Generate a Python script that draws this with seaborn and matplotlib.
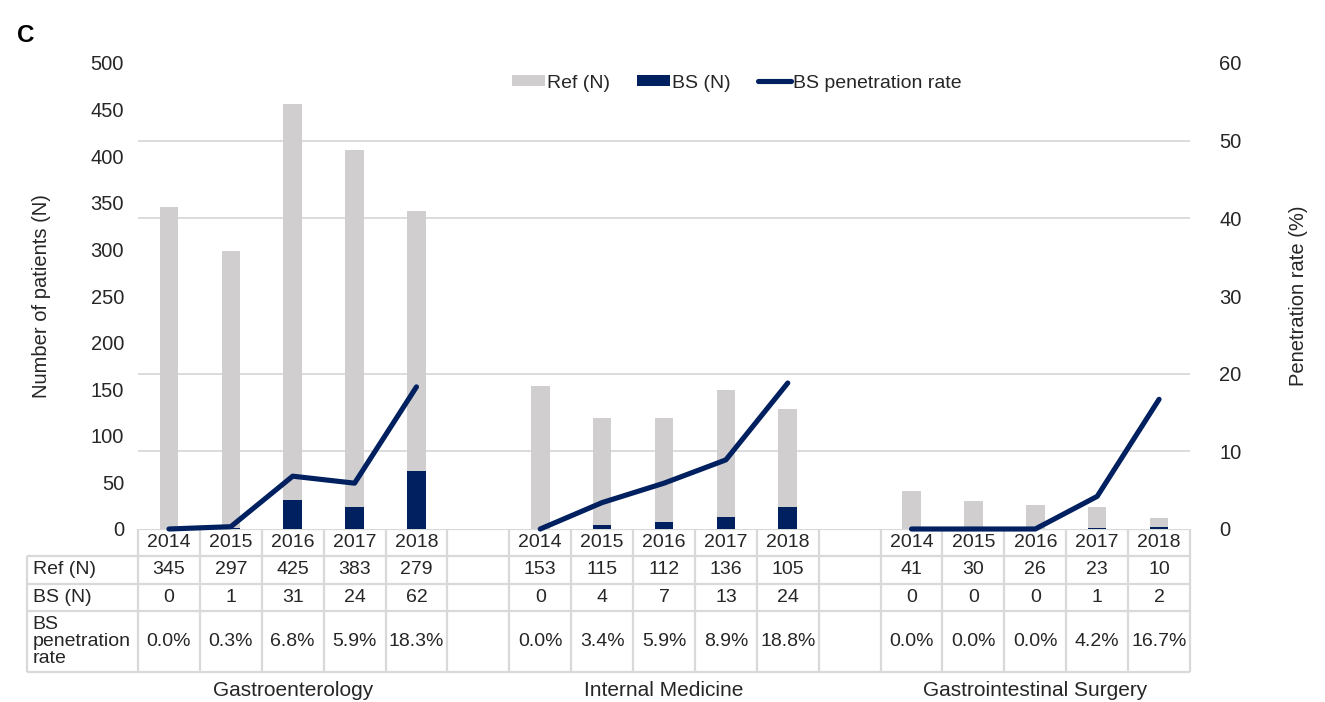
import matplotlib
matplotlib.use("Agg")

import matplotlib.pyplot as plt
import seaborn as sns
import pandas as pd
import numpy as np
from matplotlib.patches import Patch
from matplotlib.lines import Line2D

# values
departments = ["Gastroenterology", "Internal Medicine", "Gastrointestinal Surgery"]
years = ["2014", "2015", "2016", "2017", "2018"]
ref_gastro = [345, 297, 425, 383, 279]
ref_internal = [153, 115, 112, 136, 105]
ref_surgery = [41, 30, 26, 23, 10]
bs_gastro = [0, 1, 31, 24, 62]
bs_internal = [0, 4, 7, 13, 24]
bs_surgery = [0, 0, 0, 1, 2]
rate_gastro = [0.0, 0.3, 6.8, 5.9, 18.3]
rate_internal = [0.0, 3.4, 5.9, 8.9, 18.8]
rate_surgery = [0.0, 0.0, 0.0, 4.2, 16.7]

REF_COLOR = "#d0cece"
BS_COLOR = "#002060"
TEXT_COLOR = "#262626"
GRID_COLOR = "#d9d9d9"

sns.set_theme(style="white")
plt.rcParams["font.family"] = ["Liberation Sans", "DejaVu Sans"]
plt.rcParams["text.color"] = TEXT_COLOR

# one row per bar, a blank slot between departments
refs = [ref_gastro, ref_internal, ref_surgery]
bss = [bs_gastro, bs_internal, bs_surgery]
rates = [rate_gastro, rate_internal, rate_surgery]
rows = []
for g, dept in enumerate(departments):
    for i, year in enumerate(years):
        rows.append({
            "dept": dept,
            "year": year,
            "pos": g * (len(years) + 1) + i,
            "ref": refs[g][i],
            "bs": bss[g][i],
            "rate": rates[g][i],
        })
df = pd.DataFrame(rows)
df["total"] = df["ref"] + df["bs"]
n_slots = len(departments) * (len(years) + 1) - 1

W, H = 1325, 702
fig = plt.figure(figsize=(W / 100, H / 100), dpi=100)

# plot area in pixel coords of the reference
left_px, right_px, top_px, bottom_px = 138, 1190, 63, 529
ax = fig.add_axes([left_px / W, 1 - bottom_px / H,
                   (right_px - left_px) / W, (bottom_px - top_px) / H])
ax.set_zorder(2)

sns.barplot(data=df, x="pos", y="total", native_scale=True, width=0.3,
            color=REF_COLOR, saturation=1, linewidth=0, errorbar=None, ax=ax)
sns.barplot(data=df, x="pos", y="bs", native_scale=True, width=0.3,
            color=BS_COLOR, saturation=1, linewidth=0, errorbar=None, ax=ax)

ax.set_xlim(-0.5, n_slots - 0.5)
ax.set_ylim(0, 500)
ax.set_xticks([])
ax.set_yticks(np.arange(0, 501, 50))
ax.set_yticks(np.linspace(0, 500, 7), minor=True)
ax.grid(False)
ax.grid(which="minor", axis="y", color=GRID_COLOR, linewidth=1.3)
ax.set_axisbelow(True)
ax.tick_params(axis="y", which="both", length=0, pad=10, labelsize=14.5,
               labelcolor=TEXT_COLOR)
ax.set_xlabel("")
ax.set_ylabel("")
for spine in ax.spines.values():
    spine.set_visible(False)

ax2 = ax.twinx()
ax2.set_zorder(3)
sns.lineplot(data=df, x="pos", y="rate", units="dept", estimator=None,
             color=BS_COLOR, linewidth=3.7, solid_capstyle="round", ax=ax2,
             legend=False)
for line in ax2.get_lines():
    line.set_clip_on(False)
ax2.set_ylim(0, 60)
ax2.set_yticks(np.arange(0, 61, 10))
ax2.tick_params(axis="y", length=0, pad=21, labelsize=14.5, labelcolor=TEXT_COLOR)
ax2.set_xlim(-0.5, n_slots - 0.5)
ax2.set_xlabel("")
ax2.set_ylabel("")
ax2.grid(False)
for spine in ax2.spines.values():
    spine.set_visible(False)

fig.text(42 / W, 1 - 296 / H, "Number of patients (N)", rotation=90,
         ha="center", va="center", fontsize=14.5)
fig.text(1298 / W, 1 - 296 / H, "Penetration rate (%)", rotation=90,
         ha="center", va="center", fontsize=14.5)
fig.text(17 / W, 1 - 36 / H, "C", fontsize=17.5, fontweight="bold",
         ha="left", va="center", color="black")

handles = [
    Patch(facecolor=REF_COLOR, edgecolor="none"),
    Patch(facecolor=BS_COLOR, edgecolor="none"),
    Line2D([0], [0], color=BS_COLOR, linewidth=3.7, solid_capstyle="round"),
]
fig.legend(handles, ["Ref (N)", "BS (N)", "BS penetration rate"],
           loc="center", bbox_to_anchor=(737 / W, 1 - 83 / H), ncol=3,
           frameon=False, fontsize=14, handlelength=1.7, handleheight=0.5,
           handletextpad=0.1, columnspacing=1.4)

# data table under the plot, drawn in its own axes (y in pixels)
label_px = 27
col_w = (right_px - left_px) / n_slots
table_bottom = 672
tab = fig.add_axes([label_px / W, 1 - table_bottom / H,
                    (right_px - label_px) / W, (table_bottom - bottom_px) / H])
tab.set_zorder(1)
tab.patch.set_visible(False)
x_left = -0.5 - (left_px - label_px) / col_w
tab.set_xlim(x_left, n_slots - 0.5)
tab.set_ylim(table_bottom - bottom_px, 0)
tab.axis("off")

row_edges = [0, 27, 55, 82, 143]
bounds = np.arange(-0.5, n_slots, 1.0)
line_kw = dict(color=GRID_COLOR, linewidth=1.6, clip_on=False)
tab.hlines(row_edges[0], -0.5, n_slots - 0.5, **line_kw)
tab.hlines(row_edges[1:], x_left, n_slots - 0.5, **line_kw)
tab.vlines(bounds, row_edges[0], row_edges[-1], **line_kw)
tab.vlines(x_left, row_edges[1], row_edges[-1], **line_kw)

row_mid = [(a + b) / 2 for a, b in zip(row_edges[:-1], row_edges[1:])]
row_labels = ["Ref (N)", "BS (N)", "BS\npenetration\nrate"]
for label, y in zip(row_labels, row_mid[1:]):
    tab.text(x_left + 0.09, y, label, ha="left", va="center", fontsize=14,
             linespacing=0.98)

for _, r in df.iterrows():
    tab.text(r["pos"], row_mid[0], r["year"], ha="center", va="center", fontsize=14)
    tab.text(r["pos"], row_mid[1], f"{r['ref']}", ha="center", va="center", fontsize=14)
    tab.text(r["pos"], row_mid[2], f"{r['bs']}", ha="center", va="center", fontsize=14)
    tab.text(r["pos"], row_mid[3], f"{r['rate']:.1f}%", ha="center", va="center",
             fontsize=14)

for dept, grp in df.groupby("dept", sort=False):
    tab.text(grp["pos"].mean(), 161, dept, ha="center", va="center",
             fontsize=15, clip_on=False)

fig.savefig("out.png", dpi=100)
plt.close(fig)
